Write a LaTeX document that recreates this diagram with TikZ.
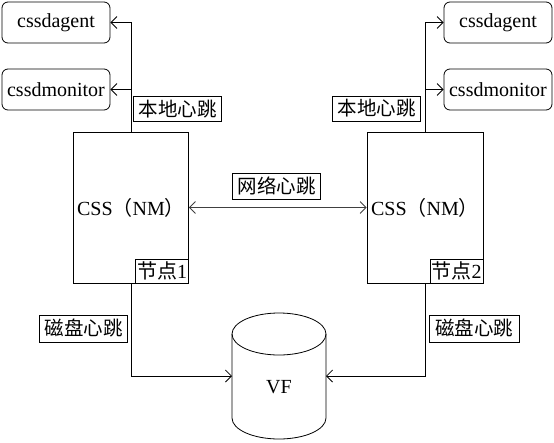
\documentclass[tikz,border=0pt]{standalone}
\usepackage{fontspec}
\setmainfont{Liberation Serif}
\newfontfamily\cjk{Noto Sans CJK SC}
\usetikzlibrary{arrows.meta}
\begin{document}
\begin{tikzpicture}[x=1pt,y=-1pt,
  font=\fontsize{20}{24}\selectfont,
  tip/.tip={Straight Barb[length=6pt,width=12pt,line width=0.8pt]},
  proc/.style={draw, rounded corners=6pt, minimum width=108pt, minimum height=41pt, inner sep=0pt, line width=0.8pt},
  nodebox/.style={draw, minimum width=115pt, minimum height=151pt, inner sep=0pt, line width=0.8pt},
  lbl/.style={draw, inner sep=0pt, minimum height=25pt, minimum width=88pt, line width=0.8pt, font=\cjk\fontsize{19.5}{22}\selectfont},
  tag/.style={draw, inner sep=0pt, minimum height=24pt, minimum width=53pt, line width=0.8pt, anchor=south east},
  conn/.style={line width=0.8pt, -tip},
]
\useasboundingbox (0,0) rectangle (554,442);
% process boxes
\node[proc] (agentL) at (56,22.5) {cssdagent};
\node[proc] (monL) at (56,89.5) {cssdmonitor};
\node[proc] (agentR) at (498,22.5) {cssdagent};
\node[proc] (monR) at (498,89.5) {cssdmonitor};
% CSS nodes
\node[nodebox] (n1) at (131,207.5) {CSS{\cjk （}NM{\cjk ）}};
\node[nodebox, minimum width=116pt] (n2) at (425,207.5) {CSS{\cjk （}NM{\cjk ）}};
\node[tag] (t1) at (n1.south east) {{\cjk 节点}1};
\node[tag] (t2) at (n2.south east) {{\cjk 节点}2};
% cylinder VF
\draw[line width=0.8pt] (232,334) -- (232,418) arc[start angle=180,end angle=0,x radius=47,y radius=21] -- (326,334);
\draw[line width=0.8pt] (279,334) ellipse[x radius=47,y radius=21];
\node (vf) at (279,387) {VF};
\coordinate (vfW) at (232,376);
\coordinate (vfE) at (326,376);
% labels
\node[lbl] (hbL) at (177.5,109) {本地心跳};
\node[lbl] (hbR) at (376.5,108.5) {本地心跳};
\node[lbl, minimum height=26pt] (net) at (276.5,186) {网络心跳};
\node[lbl, minimum height=27pt] (dkL) at (83.5,328.5) {磁盘心跳};
\node[lbl, minimum height=27pt, minimum width=90pt] (dkR) at (474,328.5) {磁盘心跳};
% connectors
\draw[conn] (n1.north) |- (agentL.east);
\draw[conn] (n1.north |- monL.east) -- (monL.east);
\draw[conn] (n2.north) |- (agentR.west);
\draw[conn] (n2.north |- monR.west) -- (monR.west);
\draw[conn] (n1.south) |- (vfW);
\draw[conn] (n2.south) |- (vfE);
\draw[line width=0.8pt, black!75, tip-tip] (n1.east) -- (n2.west);
\end{tikzpicture}
\end{document}
